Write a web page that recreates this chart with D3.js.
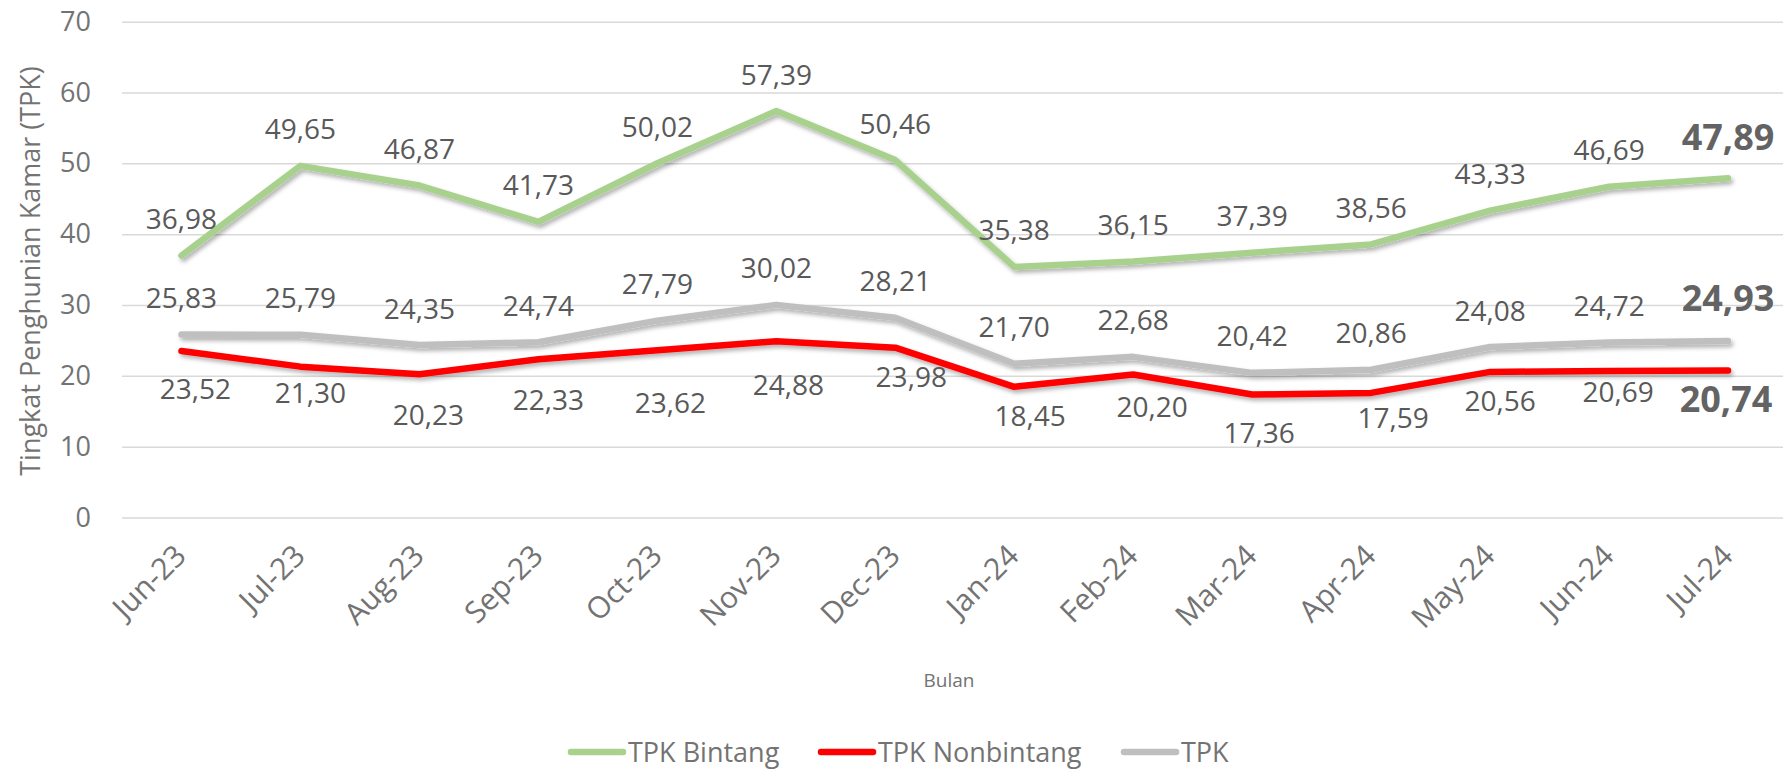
<!DOCTYPE html>
<html>
<head>
<meta charset="utf-8">
<script src="https://cdn.jsdelivr.net/npm/d3@7"></script>
<style>
    body { margin: 0; background: #fff; }
    text { font-family: 'Open Sans', sans-serif; }
    .grid line { stroke: #d9d9d9; stroke-width: 1.5; }
    .axis-label { fill: #737373; font-size: 27px; }
    .x-axis .axis-label { font-size: 30px; }
    .data-label { fill: #595959; font-size: 28px; }
    .data-label.last { font-size: 36px; font-weight: bold; fill: #636363; }
    .series-line { fill: none; stroke-width: 6.5; stroke-linecap: round; stroke-linejoin: round; }
</style>
</head>
<body>
<svg id="chart"></svg>
<script>
const months = ['Jun-23', 'Jul-23', 'Aug-23', 'Sep-23', 'Oct-23', 'Nov-23', 'Dec-23',
    'Jan-24', 'Feb-24', 'Mar-24', 'Apr-24', 'May-24', 'Jun-24', 'Jul-24'];
const tpkBintang = [36.98, 49.65, 46.87, 41.73, 50.02, 57.39, 50.46, 35.38, 36.15, 37.39, 38.56, 43.33, 46.69, 47.89];
const tpkNonbintang = [23.52, 21.30, 20.23, 22.33, 23.62, 24.88, 23.98, 18.45, 20.20, 17.36, 17.59, 20.56, 20.69, 20.74];
const tpkTotal = [25.83, 25.79, 24.35, 24.74, 27.79, 30.02, 28.21, 21.70, 22.68, 20.42, 20.86, 24.08, 24.72, 24.93];
const seriesNames = ['TPK Bintang', 'TPK Nonbintang', 'TPK'];
const yTicks = [0, 10, 20, 30, 40, 50, 60, 70];

// hand-placed label nudges for the red series (labels below the line), [dx, dy]
const nonbintangLabelShift = [[14, 38], [10, 26], [9, 41], [10, 41], [13, 53], [12, 44], [16, 29],
    [16, 29], [19, 33], [7, 38], [22, 25], [10, 29], [9, 21], [-2, 28]];

class LineChart {

    constructor(_config, _data) {
        this.config = {
            parentElement: _config.parentElement,
            containerWidth: _config.containerWidth || 1783,
            containerHeight: _config.containerHeight || 769,
            margin: _config.margin || { top: 21.7, right: 0, bottom: 251.5, left: 122 }
        }
        this.data = _data;
        this.initVis();
    }

    initVis() {
        let vis = this;

        vis.width = vis.config.containerWidth - vis.config.margin.left - vis.config.margin.right;
        vis.height = vis.config.containerHeight - vis.config.margin.top - vis.config.margin.bottom;

        // the last category band runs a bit past the right edge, like the source
        vis.xScale = d3.scalePoint()
            .domain(months)
            .range([0, vis.width + 4.5])
            .padding(0.5);

        vis.yScale = d3.scaleLinear()
            .domain([0, 70])
            .range([vis.height, 0]);

        vis.svg = d3.select(vis.config.parentElement)
            .attr('width', vis.config.containerWidth)
            .attr('height', vis.config.containerHeight);

        vis.defs = vis.svg.append('defs');
        vis.defs.append('filter')
            .attr('id', 'shadow')
            .attr('x', '-5%').attr('y', '-20%')
            .attr('width', '110%').attr('height', '140%')
            .append('feDropShadow')
            .attr('dx', 2).attr('dy', 3)
            .attr('stdDeviation', 2)
            .attr('flood-color', '#000')
            .attr('flood-opacity', 0.3);

        vis.chart = vis.svg.append('g')
            .attr('transform', `translate(${vis.config.margin.left},${vis.config.margin.top})`);

        // gridlines + y labels
        vis.yAxis = d3.axisLeft(vis.yScale)
            .tickValues(yTicks)
            .tickSize(-vis.width)
            .tickPadding(31)
            .tickFormat(d => d);

        vis.yAxisG = vis.chart.append('g')
            .attr('class', 'axis y-axis grid');

        vis.xAxisG = vis.chart.append('g')
            .attr('class', 'axis x-axis')
            .attr('transform', `translate(0,${vis.height})`);

        vis.marks = vis.chart.append('g');
        vis.labels = vis.chart.append('g');

        vis.svg.append('text')
            .attr('class', 'axis-label')
            .attr('text-anchor', 'middle')
            .attr('transform', 'translate(31,271) rotate(-90)')
            .attr('dy', '0.35em')
            .style('font-size', '27px')
            .text('Tingkat Penghunian Kamar (TPK)');

        vis.svg.append('text')
            .attr('class', 'axis-label')
            .attr('text-anchor', 'middle')
            .attr('x', 949)
            .attr('y', 680)
            .attr('dy', '0.35em')
            .style('font-size', '19px')
            .text('Bulan');

        vis.legend = vis.svg.append('g');
    }

    updateVis() {
        let vis = this;

        vis.colors = ['#a9d18e', '#ff0000', '#bfbfbf'];
        vis.comma = d3.formatLocale({ decimal: ',', thousands: '.', grouping: [3], currency: ['', ''] }).format('.2f');

        vis.line = d3.line()
            .x((d, i) => vis.xScale(months[i]))
            .y(d => vis.yScale(d));

        vis.renderVis();
    }

    renderVis() {
        let vis = this;

        vis.yAxisG.call(vis.yAxis);
        vis.yAxisG.select('.domain').remove();
        vis.yAxisG.selectAll('.tick text')
            .attr('class', 'axis-label')
            .attr('font-family', null)
            .attr('font-size', null);

        vis.xAxisG.call(d3.axisBottom(vis.xScale).tickSize(0).tickPadding(0));
        vis.xAxisG.select('.domain').remove();
        vis.xAxisG.selectAll('.tick text')
            .attr('class', 'axis-label')
            .attr('font-family', null)
            .attr('font-size', null)
            .attr('text-anchor', 'end')
            .attr('dy', null)
            .attr('y', null)
            .attr('transform', 'translate(6,40) rotate(-45)');

        // draw TPK Bintang, then TPK, then Nonbintang on top
        const order = [0, 2, 1];
        vis.marks.selectAll('.series-line')
            .data(order)
            .join('path')
            .attr('class', 'series-line')
            .attr('stroke', k => vis.colors[k])
            .attr('filter', 'url(#shadow)')
            .attr('d', k => vis.line(vis.data[k]));

        // data labels
        const labelData = [];
        vis.data.forEach((values, k) => {
            values.forEach((v, i) => {
                const last = i === values.length - 1;
                let dx = 0, dy;
                if (k === 1) {
                    dx = nonbintangLabelShift[i][0];
                    dy = nonbintangLabelShift[i][1];
                } else {
                    dy = last ? (k === 0 ? -41 : -43) : -36.5;
                }
                labelData.push({ v, i, k, last, dx, dy });
            });
        });

        vis.labels.selectAll('.data-label')
            .data(labelData)
            .join('text')
            .attr('class', d => d.last ? 'data-label last' : 'data-label')
            .attr('text-anchor', 'middle')
            .attr('x', d => vis.xScale(months[d.i]) + d.dx)
            .attr('y', d => vis.yScale(d.v) + d.dy)
            .attr('dy', '0.36em')
            .text(d => vis.comma(d.v));

        // legend
        const legendX = [568, 818, 1121];
        const items = vis.legend.selectAll('.legend-item')
            .data(seriesNames)
            .join('g')
            .attr('class', 'legend-item')
            .attr('transform', (d, i) => `translate(${legendX[i]},752)`);

        items.append('line')
            .attr('x1', 3).attr('x2', 55)
            .attr('stroke', (d, i) => vis.colors[i])
            .attr('stroke-width', 6.5)
            .attr('stroke-linecap', 'round');

        items.append('text')
            .attr('class', 'axis-label')
            .attr('x', 60)
            .attr('dy', '0.36em')
            .text(d => d);
    }
}

const chart = new LineChart({ parentElement: '#chart' }, [tpkBintang, tpkNonbintang, tpkTotal]);
chart.updateVis();
</script>
</body>
</html>
